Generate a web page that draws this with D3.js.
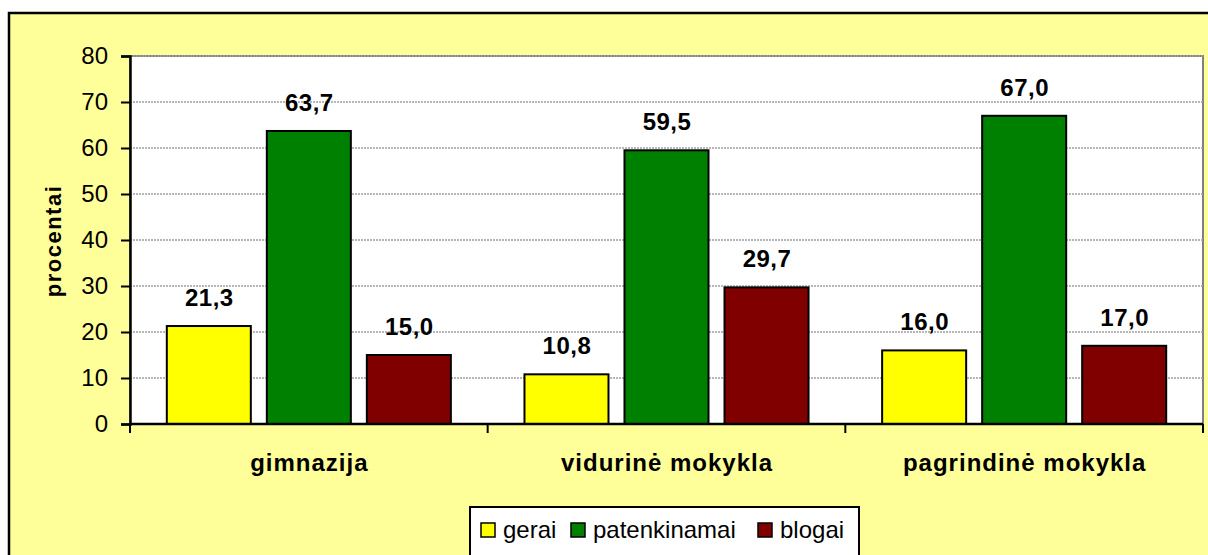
<!DOCTYPE html>
<html>
<head>
<meta charset="utf-8">
<script src="https://cdn.jsdelivr.net/npm/d3@7"></script>
<style>
  html, body { margin: 0; padding: 0; background: #ffffff; }
  svg { display: block; font-family: Arial, "Liberation Sans", sans-serif; }
</style>
</head>
<body>
<svg id="chart" width="1208" height="555"></svg>
<script>
// Survey results by school type (percent)
const categories = ["gimnazija", "vidurinė mokykla", "pagrindinė mokykla"];
const seriesNames = ["gerai", "patenkinamai", "blogai"];
const gerai = [21.3, 10.8, 16.0];
const patenkinamai = [63.7, 59.5, 67.0];
const blogai = [15.0, 29.7, 17.0];
const yTicks = [0, 10, 20, 30, 40, 50, 60, 70, 80];
const colors = ["#FFFF00", "#008000", "#800000"];

const seriesValues = [gerai, patenkinamai, blogai];
const svg = d3.select("#chart");

// outer chart frame
svg.append("rect")
  .attr("x", 9).attr("y", 13)
  .attr("width", 1210).attr("height", 560)
  .attr("fill", "#FFFF99")
  .attr("stroke", "#000").attr("stroke-width", 2.5);

const plot = { left: 130, top: 56, right: 1203, bottom: 424 };

const y = d3.scaleLinear().domain([0, 80]).range([plot.bottom, plot.top]);
const x0 = d3.scaleBand().domain(categories).range([plot.left, plot.right]).paddingInner(0).paddingOuter(0);
const x1 = d3.scaleBand().domain(seriesNames).range([0, x0.bandwidth()]).paddingInner(0.16).paddingOuter(0.368);

// plot area
svg.append("rect")
  .attr("x", plot.left).attr("y", plot.top)
  .attr("width", plot.right - plot.left).attr("height", plot.bottom - plot.top)
  .attr("fill", "#fff")
  .attr("stroke", "#808080").attr("stroke-width", 2);

// gridlines
svg.append("g")
  .selectAll("line")
  .data(yTicks.filter(d => d > 0))
  .join("line")
  .attr("x1", plot.left).attr("x2", plot.right)
  .attr("y1", d => y(d)).attr("y2", d => y(d))
  .attr("stroke", "#a0a0a0").attr("stroke-width", 1.3)
  .attr("stroke-dasharray", "2,1");

// bars
const groups = svg.append("g")
  .selectAll("g")
  .data(categories)
  .join("g")
  .attr("transform", d => `translate(${x0(d)},0)`);

const cells = (c, ci) => seriesNames.map((s, si) => ({ s, si, v: seriesValues[si][ci] }));

groups.selectAll("rect")
  .data(cells)
  .join("rect")
  .attr("x", d => x1(d.s))
  .attr("width", x1.bandwidth())
  .attr("y", d => y(d.v))
  .attr("height", d => y(0) - y(d.v))
  .attr("fill", d => colors[d.si])
  .attr("stroke", "#000").attr("stroke-width", 2);

groups.selectAll("text")
  .data(cells)
  .join("text")
  .attr("x", d => x1(d.s) + x1.bandwidth() / 2 + 0.5)
  .attr("y", d => y(d.v) - 20)
  .attr("text-anchor", "middle")
  .attr("font-size", 24).attr("font-weight", "bold")
  .attr("letter-spacing", 0.5)
  .text(d => d.v.toFixed(1).replace(".", ","));

// y axis
const yAxis = svg.append("g")
  .attr("transform", `translate(${plot.left},0)`)
  .call(d3.axisLeft(y).tickValues(yTicks).tickSize(9).tickPadding(13).tickFormat(d3.format("d")));
yAxis.select(".domain").attr("stroke", "#000").attr("stroke-width", 2.5);
yAxis.selectAll(".tick line").attr("stroke", "#000").attr("stroke-width", 2);
yAxis.selectAll(".tick text").attr("font-size", 24).attr("fill", "#000")
  .attr("font-family", "Arial, 'Liberation Sans', sans-serif");

// x axis baseline and category separators
svg.append("line")
  .attr("x1", plot.left).attr("x2", plot.right)
  .attr("y1", y(0)).attr("y2", y(0))
  .attr("stroke", "#000").attr("stroke-width", 2.5);

const sepPos = categories.map(c => x0(c)).concat([plot.right]);
svg.append("g").selectAll("line")
  .data(sepPos)
  .join("line")
  .attr("x1", d => d).attr("x2", d => d)
  .attr("y1", y(0)).attr("y2", y(0) + 9)
  .attr("stroke", "#000").attr("stroke-width", 2);

svg.append("g").selectAll("text")
  .data(categories)
  .join("text")
  .attr("x", d => x0(d) + x0.bandwidth() / 2 + 0.5)
  .attr("y", 471)
  .attr("text-anchor", "middle")
  .attr("font-size", 24).attr("font-weight", "bold")
  .attr("letter-spacing", 1)
  .text(d => d);

// y axis title
svg.append("text")
  .attr("transform", `translate(61,${(plot.top + plot.bottom) / 2 + 1}) rotate(-90)`)
  .attr("text-anchor", "middle")
  .attr("font-size", 22).attr("font-weight", "bold")
  .attr("letter-spacing", 1.5)
  .text("procentai");

// legend
const legend = svg.append("g");
legend.append("rect")
  .attr("x", 470).attr("y", 507)
  .attr("width", 389).attr("height", 60)
  .attr("fill", "#fff").attr("stroke", "#000").attr("stroke-width", 2);

const legendX = [481, 571, 758];
const items = legend.selectAll("g.item")
  .data(seriesNames)
  .join("g")
  .attr("class", "item")
  .attr("transform", (d, i) => `translate(${legendX[i]},0)`);
items.append("rect")
  .attr("x", 0).attr("y", 523)
  .attr("width", 14).attr("height", 14)
  .attr("fill", (d, i) => colors[i])
  .attr("stroke", "#000").attr("stroke-width", 1.5);
items.append("text")
  .attr("x", 22).attr("y", 538)
  .attr("font-size", 24)
  .text(d => d);
</script>
</body>
</html>
